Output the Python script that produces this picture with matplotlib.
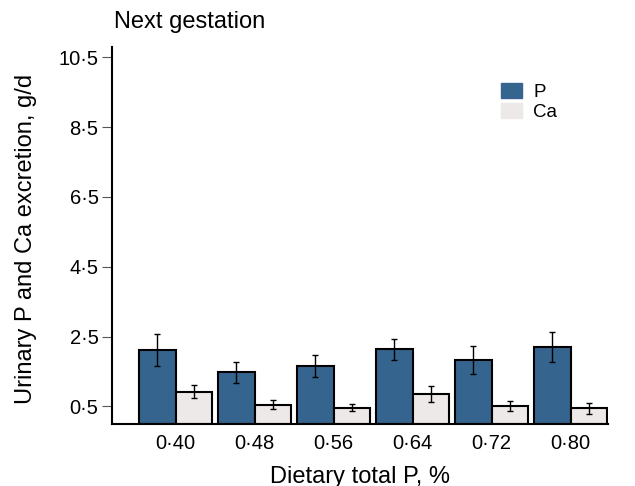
import matplotlib
matplotlib.use("Agg")
import matplotlib.pyplot as plt
import numpy as np

plt.rcParams['font.family'] = ['Liberation Sans', 'DejaVu Sans']

# dietary total P levels
levels = ['0·40', '0·48', '0·56', '0·64', '0·72', '0·80']
p_mean = [2.11, 1.47, 1.66, 2.13, 1.83, 2.21]
p_err = [0.45, 0.30, 0.31, 0.30, 0.41, 0.43]
ca_mean = [0.92, 0.54, 0.46, 0.85, 0.51, 0.44]
ca_err = [0.19, 0.13, 0.10, 0.24, 0.15, 0.15]
yticks = [0.5, 2.5, 4.5, 6.5, 8.5, 10.5]
ytick_labels = ['0·5', '2·5', '4·5', '6·5', '8·5', '10·5']

blue = '#35658f'
light = '#ede9e8'

fig = plt.figure(figsize=(6.35, 4.86), dpi=100)
ax = fig.add_axes([0.177, 0.128, 0.78, 0.775])

x = np.arange(len(levels))
w = 0.465
err_kw = dict(ecolor='black', elinewidth=1.0, capsize=2.5, capthick=1.0)
ax.bar(x - w / 2, p_mean, w, yerr=p_err, color=blue, edgecolor='black',
       linewidth=1.5, error_kw=err_kw, label='P')
ax.bar(x + w / 2, ca_mean, w, yerr=ca_err, color=light, edgecolor='black',
       linewidth=1.5, error_kw=err_kw, label='Ca')

ax.set_xlim(-0.8, 5.47)
ax.set_ylim(0, 10.79)
ax.set_xticks(x)
ax.set_xticklabels(levels, fontsize=14.5)
ax.set_yticks(yticks)
ax.set_yticklabels(ytick_labels, fontsize=14.5)
ax.tick_params(axis='x', length=0, pad=7)
ax.tick_params(axis='y', length=7, width=0.8, color='#555555', pad=3)

for s in ['top', 'right']:
    ax.spines[s].set_visible(False)
for s in ['left', 'bottom']:
    ax.spines[s].set_linewidth(1.5)

ax.set_xlabel('Dietary total P, %', fontsize=17, labelpad=10)
ax.set_ylabel('Urinary P and Ca excretion, g/d', fontsize=17)
ax.yaxis.set_label_coords(-0.153, 0.49)
fig.text(0.179, 0.955, 'Next gestation', fontsize=17, ha='left', va='center')

handles = [plt.Rectangle((0, 0), 1, 1, color=blue),
           plt.Rectangle((0, 0), 1, 1, color=light)]
ax.legend(handles, ['P', 'Ca'], loc='upper left', bbox_to_anchor=(0.77, 0.925),
          frameon=False, fontsize=13.5, handlelength=1.1, handleheight=0.85,
          handletextpad=0.6, labelspacing=0.1, borderaxespad=0)

fig.savefig('out.png', dpi=100)
